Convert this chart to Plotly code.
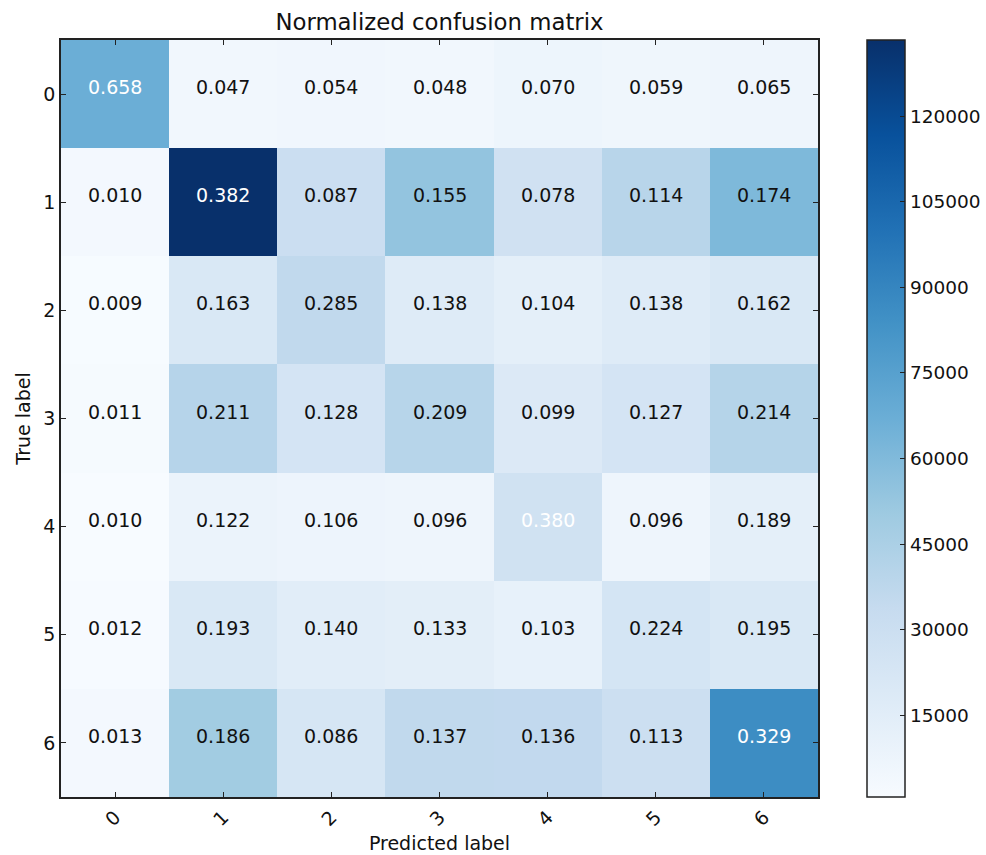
import plotly.graph_objects as go

# Class labels
classes = ["0", "1", "2", "3", "4", "5", "6"]

# Row-normalized confusion matrix (true label rows, predicted label columns)
row0 = [0.658, 0.047, 0.054, 0.048, 0.070, 0.059, 0.065]
row1 = [0.010, 0.382, 0.087, 0.155, 0.078, 0.114, 0.174]
row2 = [0.009, 0.163, 0.285, 0.138, 0.104, 0.138, 0.162]
row3 = [0.011, 0.211, 0.128, 0.209, 0.099, 0.127, 0.214]
row4 = [0.010, 0.122, 0.106, 0.096, 0.380, 0.096, 0.189]
row5 = [0.012, 0.193, 0.140, 0.133, 0.103, 0.224, 0.195]
row6 = [0.013, 0.186, 0.086, 0.137, 0.136, 0.113, 0.329]
normalized = [row0, row1, row2, row3, row4, row5, row6]

# Number of samples per true class (used for the raw-count colouring)
row_totals = [102000, 349000, 126000, 191000, 71000, 107000, 262000]

colorbar_ticks = [15000, 30000, 45000, 60000, 75000, 90000, 105000, 120000]

counts = [[v * t for v in row] for row, t in zip(normalized, row_totals)]

# matplotlib "Blues"
blues = [
    [0.0, "#f7fbff"], [0.125, "#deebf7"], [0.25, "#c6dbef"], [0.375, "#9ecae1"],
    [0.5, "#6baed6"], [0.625, "#4292c6"], [0.75, "#2171b5"], [0.875, "#08519c"],
    [1.0, "#08306b"],
]

FONT = "DejaVu Sans"
zmin = min(min(r) for r in counts)
zmax = max(max(r) for r in counts)

fig = go.Figure(
    go.Heatmap(
        z=counts,
        x=classes,
        y=classes,
        colorscale=blues,
        zmin=zmin,
        zmax=zmax,
        xgap=0,
        ygap=0,
        hoverinfo="skip",
        colorbar=dict(
            thickness=38,
            len=1.0,
            lenmode="fraction",
            y=0.5,
            yanchor="middle",
            x=(867 - 61) / 757,
            xanchor="left",
            xpad=0,
            ypad=0,
            outlinecolor="#222222",
            outlinewidth=1.5,
            tickvals=colorbar_ticks,
            ticktext=[str(t) for t in colorbar_ticks],
            ticks="inside",
            ticklen=5,
            tickcolor="#222222",
            tickfont=dict(family=FONT, size=18.5, color="#111111"),
        ),
    )
)

# Cell value labels
thresh = max(max(r) for r in normalized) / 2
annotations = []
for i, row in enumerate(normalized):
    for j, v in enumerate(row):
        annotations.append(
            dict(
                x=classes[j],
                y=classes[i],
                text=f"{v:.3f}",
                showarrow=False,
                yshift=7,
                font=dict(family=FONT, size=19,
                          color="white" if v >= thresh else "#111111"),
            )
        )

axis_common = dict(
    showline=True,
    linecolor="#222222",
    linewidth=1.5,
    mirror="ticks",
    ticks="inside",
    ticklen=5,
    tickcolor="#222222",
    showgrid=False,
    zeroline=False,
    tickfont=dict(family=FONT, size=19, color="#111111"),
)

fig.update_layout(
    width=986,
    height=855,
    margin=dict(l=61, r=168, t=40, b=58, autoexpand=False),
    paper_bgcolor="white",
    plot_bgcolor="white",
    annotations=annotations,
    title=dict(
        text="Normalized confusion matrix",
        x=(61 + 818) / 2 / 986,
        xanchor="center",
        y=1 - 22 / 855,
        yanchor="middle",
        font=dict(family=FONT, size=22.8, color="#111111"),
    ),
    xaxis=dict(
        **axis_common,
        tickangle=-45,
        automargin=False,
        title=dict(text="Predicted label", standoff=8,
                   font=dict(family=FONT, size=19, color="#111111")),
    ),
    yaxis=dict(
        **axis_common,
        autorange="reversed",
        automargin=False,
        title=dict(text="True label", standoff=8,
                   font=dict(family=FONT, size=19, color="#111111")),
    ),
)

fig.write_html("out.html")
